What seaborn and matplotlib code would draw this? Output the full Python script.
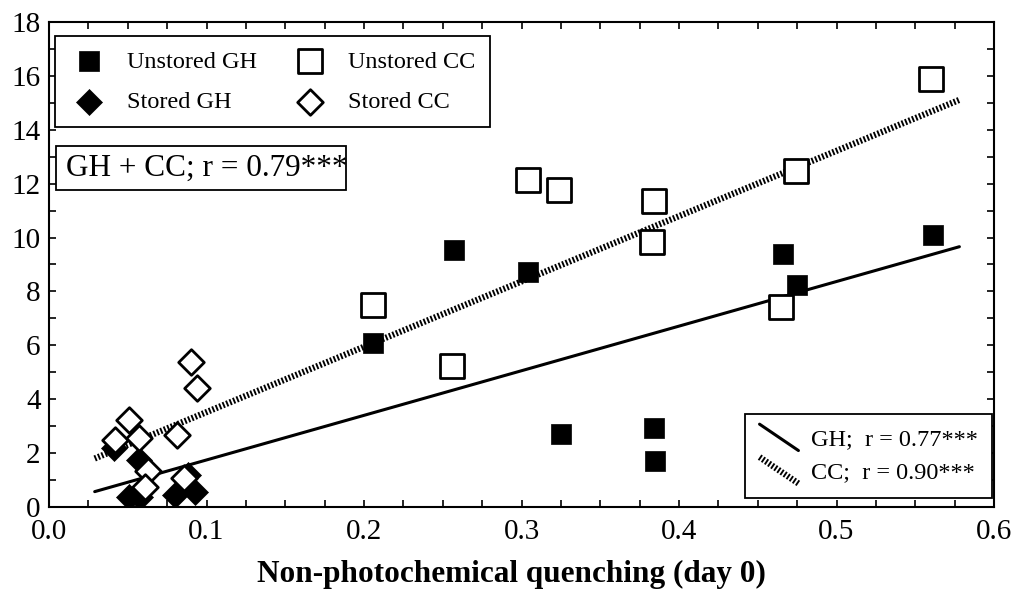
#!/usr/bin/env python3
"""
NPQ scatter: unstored vs stored GH / CC with regression lines.
"""

import numpy as np
import matplotlib
matplotlib.use("Agg")
import matplotlib.pyplot as plt
import seaborn as sns
from matplotlib.lines import Line2D
from matplotlib.patches import Rectangle
from matplotlib.legend_handler import HandlerBase
from matplotlib.ticker import MultipleLocator, FormatStrFormatter

# values
unstored_gh_x = [0.206, 0.257, 0.304, 0.325, 0.384, 0.385, 0.466, 0.475, 0.561]
unstored_gh_y = [6.10, 9.54, 8.71, 2.71, 2.94, 1.70, 9.38, 8.24, 10.10]

unstored_cc_x = [0.206, 0.256, 0.304, 0.324, 0.384, 0.383, 0.465, 0.474, 0.560]
unstored_cc_y = [7.50, 5.23, 12.14, 11.77, 11.37, 9.83, 7.44, 12.48, 15.89]

stored_gh_x = [0.041, 0.057, 0.051, 0.058, 0.080, 0.088, 0.093]
stored_gh_y = [2.18, 1.75, 0.38, 0.38, 0.45, 1.19, 0.55]

stored_cc_x = [0.042, 0.051, 0.057, 0.081, 0.090, 0.094, 0.063, 0.086, 0.061]
stored_cc_y = [2.49, 3.23, 2.55, 2.67, 5.39, 4.40, 1.34, 1.09, 0.75]

# regression line end points
fit_x = [0.029, 0.578]
gh_fit_y = [0.57, 9.66]
cc_fit_y = [1.80, 15.11]

gh_label = "GH;  r = 0.77***"
cc_label = "CC;  r = 0.90***"
all_label = "GH + CC; r = 0.79***"
x_label = "Non-photochemical quenching (day 0)"


class SlantHandler(HandlerBase):
    """Legend handle drawn as a short line going down to the right."""
    def create_artists(self, legend, orig_handle, xdescent, ydescent,
                       width, height, fontsize, trans):
        x0 = -xdescent
        line = Line2D([x0, x0 + width], [height * 1.25 - ydescent, -0.3 * height - ydescent])
        line.update_from(orig_handle)
        line.set_transform(trans)
        return [line]


sns.set_style("ticks")
plt.rcParams["font.family"] = ["Liberation Serif", "DejaVu Serif"]
plt.rcParams["text.color"] = "black"
plt.rcParams["axes.labelcolor"] = "black"

fig = plt.figure(figsize=(10.19, 5.99), dpi=100)
ax = fig.add_axes([0.0481, 0.1536, 0.9274, 0.8097])

# regression lines
sns.lineplot(x=fit_x, y=gh_fit_y, color="black", linewidth=2.2, ax=ax, zorder=1)
gh_line = ax.lines[-1]
sns.lineplot(x=fit_x, y=cc_fit_y, color="black", linewidth=4.5,
             linestyle=(0, (0.3, 0.3)), ax=ax, zorder=1)
cc_line = ax.lines[-1]

# points
sns.scatterplot(x=unstored_gh_x, y=unstored_gh_y, marker="s", s=225, color="black",
                edgecolor="black", linewidth=0.5, ax=ax, zorder=3, label="Unstored GH")
sns.scatterplot(x=stored_gh_x, y=stored_gh_y, marker="D", s=175, color="black",
                edgecolor="black", linewidth=0.5, ax=ax, zorder=3, label="Stored GH")
sns.scatterplot(x=unstored_cc_x, y=unstored_cc_y, marker="s", s=290, color="white",
                edgecolor="black", linewidth=2, ax=ax, zorder=4, label="Unstored CC")
sns.scatterplot(x=stored_cc_x, y=stored_cc_y, marker="D", s=170, color="white",
                edgecolor="black", linewidth=2, ax=ax, zorder=4, label="Stored CC")

ax.set_xlim(0, 0.6)
ax.set_ylim(0, 18)
ax.xaxis.set_major_locator(MultipleLocator(0.1))
ax.xaxis.set_minor_locator(MultipleLocator(0.025))
ax.xaxis.set_major_formatter(FormatStrFormatter("%.1f"))
ax.yaxis.set_major_locator(MultipleLocator(2))
ax.yaxis.set_minor_locator(MultipleLocator(1))
ax.tick_params(which="both", direction="in", top=True, right=True,
               length=5, width=1.2, colors="black")
ax.tick_params(axis="x", which="major", labelsize=21, pad=9)
ax.tick_params(axis="y", which="major", labelsize=21, pad=6)
for sp in ax.spines.values():
    sp.set_linewidth(1.5)
    sp.set_color("black")

ax.set_xlabel(x_label, fontsize=22.5, fontweight="bold", va="center", color="black")
ax.xaxis.set_label_coords(0.489, -0.14)
ax.set_ylabel("")

# marker legend (top left)
handles, labels = ax.get_legend_handles_labels()
order = ["Unstored GH", "Stored GH", "Unstored CC", "Stored CC"]
hmap = dict(zip(labels, handles))
leg1 = ax.legend([hmap[k] for k in order], order, loc="upper left",
                 bbox_to_anchor=(0.0063, 0.971), borderaxespad=0, ncol=2,
                 fontsize=17.5, frameon=True, fancybox=False, framealpha=1,
                 edgecolor="black", handletextpad=0.75, columnspacing=1.4,
                 labelspacing=0.75, borderpad=0.6, handlelength=1.6,
                 labelcolor="black")
leg1.get_frame().set_linewidth(1.3)
ax.add_artist(leg1)

# regression legend (bottom right)
leg2 = ax.legend([gh_line, cc_line], [gh_label, cc_label], loc="lower right",
                 bbox_to_anchor=(0.9979, 0.0186), borderaxespad=0,
                 handler_map={Line2D: SlantHandler()},
                 fontsize=17.5, frameon=True, fancybox=False, framealpha=1,
                 edgecolor="black", handletextpad=0.5, labelspacing=0.45,
                 borderpad=0.6, handlelength=1.6, labelcolor="black")
leg2.get_frame().set_linewidth(1.3)

# overall correlation box
ax.add_patch(Rectangle((0.0074, 0.6536), 0.3069, 0.0907, transform=ax.transAxes,
                       facecolor="white", edgecolor="black", linewidth=1.3, zorder=5))
ax.text(0.018, 0.699, all_label, transform=ax.transAxes, fontsize=22.5,
        va="center", ha="left", zorder=6, color="black")

fig.savefig("out.png", dpi=100)
